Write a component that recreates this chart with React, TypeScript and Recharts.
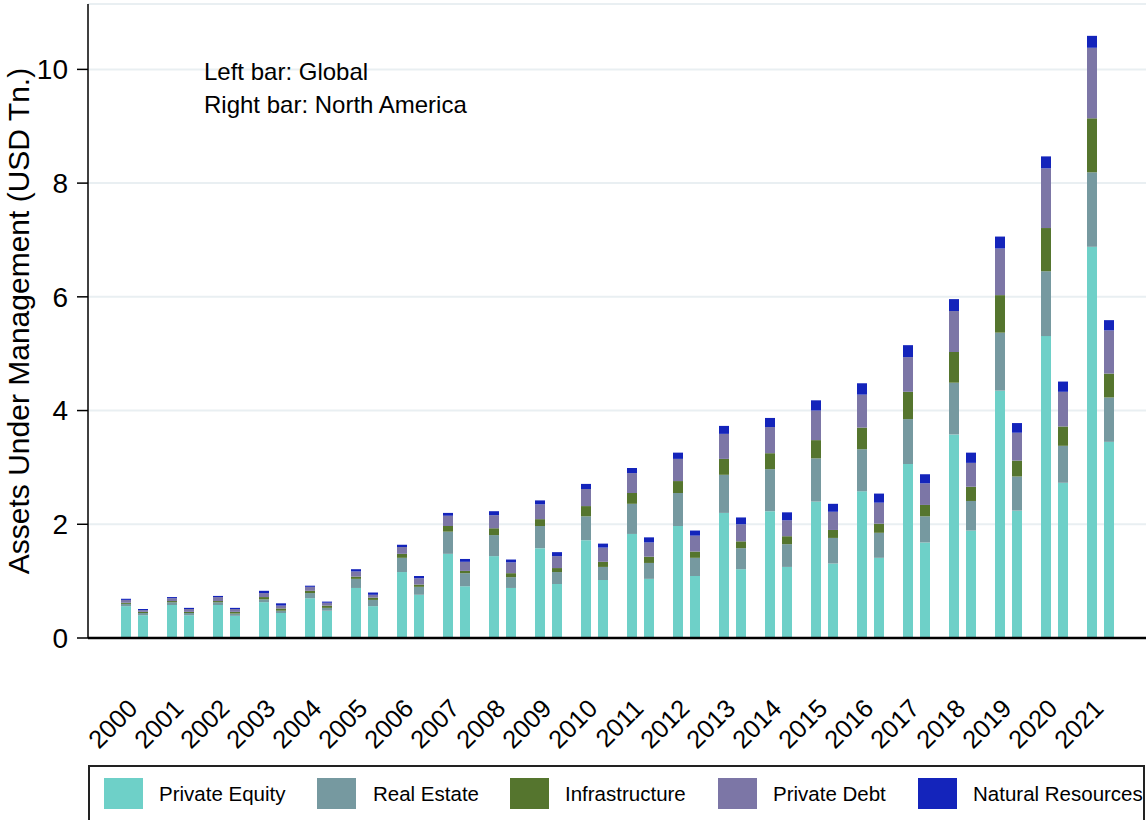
import React from 'react'
import { BarChart, Bar, XAxis, YAxis, CartesianGrid } from 'recharts'

const FONT = '"Liberation Sans", Arial, Helvetica, sans-serif'

const YEARS = [
  '2000', '2001', '2002', '2003', '2004', '2005', '2006', '2007', '2008', '2009', '2010',
  '2011', '2012', '2013', '2014', '2015', '2016', '2017', '2018', '2019', '2020', '2021',
]

// Left bar: Global (USD Tn., stacked increments)
const GLOBAL_PE = [0.56, 0.58, 0.58, 0.63, 0.70, 0.88, 1.16, 1.48, 1.44, 1.58, 1.72, 1.83, 1.97, 2.20, 2.23, 2.40, 2.58, 3.06, 3.58, 4.35, 5.31, 6.88]
const GLOBAL_RE = [0.04, 0.05, 0.05, 0.05, 0.09, 0.16, 0.25, 0.39, 0.37, 0.39, 0.42, 0.53, 0.58, 0.67, 0.74, 0.76, 0.74, 0.79, 0.91, 1.02, 1.14, 1.31]
const GLOBAL_INF = [0.02, 0.02, 0.02, 0.04, 0.04, 0.04, 0.07, 0.10, 0.12, 0.12, 0.18, 0.19, 0.21, 0.28, 0.28, 0.32, 0.38, 0.48, 0.54, 0.66, 0.76, 0.95]
const GLOBAL_PD = [0.05, 0.05, 0.07, 0.07, 0.07, 0.09, 0.12, 0.18, 0.23, 0.26, 0.30, 0.35, 0.39, 0.44, 0.46, 0.52, 0.58, 0.61, 0.72, 0.82, 1.05, 1.24]
const GLOBAL_NR = [0.02, 0.02, 0.02, 0.04, 0.02, 0.04, 0.04, 0.05, 0.07, 0.07, 0.09, 0.09, 0.11, 0.14, 0.16, 0.18, 0.20, 0.21, 0.21, 0.21, 0.21, 0.21]

// Right bar: North America
const NA_PE = [0.40, 0.40, 0.39, 0.44, 0.48, 0.56, 0.76, 0.91, 0.88, 0.95, 1.02, 1.04, 1.09, 1.21, 1.25, 1.31, 1.41, 1.68, 1.89, 2.24, 2.73, 3.45]
const NA_RE = [0.04, 0.04, 0.04, 0.04, 0.05, 0.11, 0.14, 0.23, 0.19, 0.21, 0.23, 0.28, 0.32, 0.37, 0.40, 0.45, 0.44, 0.46, 0.52, 0.60, 0.65, 0.78]
const NA_INF = [0.02, 0.02, 0.03, 0.04, 0.04, 0.04, 0.04, 0.04, 0.07, 0.07, 0.09, 0.11, 0.11, 0.12, 0.14, 0.14, 0.16, 0.20, 0.25, 0.28, 0.34, 0.42]
const NA_PD = [0.03, 0.05, 0.05, 0.05, 0.05, 0.05, 0.11, 0.16, 0.19, 0.21, 0.25, 0.25, 0.28, 0.30, 0.28, 0.32, 0.37, 0.38, 0.42, 0.49, 0.61, 0.76]
const NA_NR = [0.02, 0.02, 0.02, 0.04, 0.02, 0.04, 0.04, 0.05, 0.05, 0.07, 0.07, 0.09, 0.09, 0.12, 0.14, 0.14, 0.16, 0.16, 0.18, 0.17, 0.18, 0.18]

const Y_TICKS = [0, 2, 4, 6, 8, 10]

const SERIES = [
  { key: 'pe', name: 'Private Equity', color: '#6ed0c8', g: GLOBAL_PE, na: NA_PE },
  { key: 're', name: 'Real Estate', color: '#7699a0', g: GLOBAL_RE, na: NA_RE },
  { key: 'inf', name: 'Infrastructure', color: '#55752e', g: GLOBAL_INF, na: NA_INF },
  { key: 'pd', name: 'Private Debt', color: '#7c76a6', g: GLOBAL_PD, na: NA_PD },
  { key: 'nr', name: 'Natural Resources', color: '#1424bb', g: GLOBAL_NR, na: NA_NR },
]

const data = YEARS.map((year, i) => {
  const row: Record<string, string | number> = { year }
  SERIES.forEach(s => {
    row['g_' + s.key] = s.g[i]
    row['na_' + s.key] = s.na[i]
  })
  return row
})

// legend swatch / label left edges
const LEGEND_POS = [
  { swatch: 14, label: 69 },
  { swatch: 227, label: 283 },
  { swatch: 420, label: 475 },
  { swatch: 628, label: 683 },
  { swatch: 828, label: 883 },
]

const YearTick = ({ x, y, payload }: any) => (
  <text
    x={x + 5}
    y={y + 70}
    textAnchor="end"
    fontSize={25.5}
    fontFamily={FONT}
    fill="#000"
    transform={`rotate(-45, ${x + 5}, ${y + 70})`}
  >
    {payload.value}
  </text>
)

const YTitle = ({ viewBox }: any) => {
  const cy = viewBox.y + viewBox.height / 2
  return (
    <text
      x={18}
      y={cy}
      textAnchor="middle"
      dominantBaseline="central"
      fontSize={30}
      fontFamily={FONT}
      fill="#000"
      transform={`rotate(-90, 18, ${cy})`}
    >
      Assets Under Management (USD Tn.)
    </text>
  )
}

export default function App() {
  return (
    <div style={{ position: 'absolute', left: 0, top: 0, width: 1146, height: 820, overflow: 'hidden', background: '#fff', fontFamily: FONT }}>
      <BarChart
        width={1146}
        height={820}
        data={data}
        margin={{ top: 4, right: 0, left: 0, bottom: 0 }}
        barSize={10}
        barGap={7}
      >
        <CartesianGrid vertical={false} stroke="#e9eff2" strokeWidth={2} />
        <XAxis
          dataKey="year"
          height={182}
          padding={{ left: 23, right: 23 }}
          tickLine={false}
          tickSize={0}
          axisLine={{ stroke: '#000', strokeWidth: 2.5 }}
          tick={<YearTick />}
          interval={0}
        />
        <YAxis
          type="number"
          width={88}
          domain={[0, 11.15]}
          ticks={Y_TICKS}
          allowDataOverflow
          tickSize={11}
          tickMargin={9}
          tick={{ fontSize: 28, fill: '#000', fontFamily: FONT }}
          tickLine={{ stroke: '#000', strokeWidth: 1.5 }}
          axisLine={{ stroke: '#000', strokeWidth: 1.5 }}
          label={<YTitle />}
        />
        {SERIES.map(s => (
          <Bar key={'g_' + s.key} dataKey={'g_' + s.key} stackId="g" fill={s.color} isAnimationActive={false} />
        ))}
        {SERIES.map(s => (
          <Bar key={'na_' + s.key} dataKey={'na_' + s.key} stackId="na" fill={s.color} isAnimationActive={false} />
        ))}
      </BarChart>

      <div style={{ position: 'absolute', left: 204, top: 55, fontSize: 24, lineHeight: '33px', color: '#000' }}>
        <div>Left bar: Global</div>
        <div>Right bar: North America</div>
      </div>

      <div
        style={{
          position: 'absolute',
          left: 88,
          top: 765,
          width: 1057,
          height: 70,
          border: '2px solid #222',
          boxSizing: 'border-box',
        }}
      >
        {SERIES.map((s, i) => (
          <React.Fragment key={s.key}>
            <div style={{ position: 'absolute', left: LEGEND_POS[i].swatch, top: 11, width: 39, height: 31, background: s.color }} />
            <div style={{ position: 'absolute', left: LEGEND_POS[i].label, top: 12, lineHeight: '30px', fontSize: 20.5, color: '#000', whiteSpace: 'nowrap' }}>
              {s.name}
            </div>
          </React.Fragment>
        ))}
      </div>
    </div>
  )
}
